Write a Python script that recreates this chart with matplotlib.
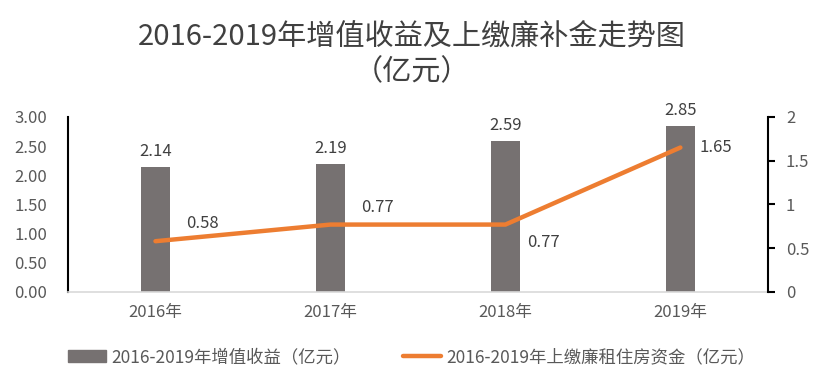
import matplotlib
matplotlib.use("Agg")
import matplotlib.pyplot as plt
from matplotlib.lines import Line2D
from matplotlib.patches import Patch

plt.rcParams['font.family'] = ['Noto Sans CJK SC', 'DejaVu Sans']

years = ["2016年", "2017年", "2018年", "2019年"]
income = [2.14, 2.19, 2.59, 2.85]
paid = [0.58, 0.77, 0.77, 1.65]

bar_color = "#767171"
line_color = "#ED7D31"
text_color = "#595959"

fig = plt.figure(figsize=(8.23, 3.9), dpi=100)
ax = fig.add_axes([0.0826, 0.2513, 0.8504, 0.449])
ax2 = ax.twinx()

x = list(range(len(years)))
ax.bar(x, income, width=0.17, color=bar_color, zorder=2)
ax.set_xlim(-0.5, 3.5)
ax.set_ylim(0, 3)
ax.set_yticks([0, 0.5, 1, 1.5, 2, 2.5, 3])
ax.set_yticklabels([f"{v:.2f}" for v in ax.get_yticks()])
ax.set_xticks(x)
ax.set_xticklabels(years)
ax.tick_params(axis="both", length=0, labelsize=12, labelcolor=text_color)
ax.tick_params(axis="y", pad=15)
ax.tick_params(axis="x", pad=9)

for s in ["top", "right"]:
    ax.spines[s].set_visible(False)
ax.spines["left"].set_color("black")
ax.spines["left"].set_linewidth(1.5)
ax.spines["bottom"].set_color("#D9D9D9")
ax.spines["bottom"].set_linewidth(1.2)

for xi, v in zip(x, income):
    ax.text(xi, v + 0.12, f"{v:.2f}", ha="center", va="bottom",
            fontsize=12, color="#404040")

ax2.plot(x, paid, color=line_color, linewidth=3.2, solid_capstyle="round", zorder=3)
ax2.set_ylim(0, 2)
ax2.set_yticks([0, 0.5, 1, 1.5, 2])
ax2.set_yticklabels(["0", "0.5", "1", "1.5", "2"])
ax2.tick_params(axis="y", length=5, width=1.5, direction="out", labelsize=12,
                labelcolor=text_color, pad=8)
for s in ["top", "left", "bottom"]:
    ax2.spines[s].set_visible(False)
ax2.spines["right"].set_color("black")
ax2.spines["right"].set_linewidth(1.5)

offsets = [(0.27, 0.2), (0.27, 0.2), (0.22, -0.2), (0.2, 0.0)]
for xi, v, (dx, dy) in zip(x, paid, offsets):
    ax2.text(xi + dx, v + dy, f"{v:.2f}", ha="center", va="center",
             fontsize=12, color="#404040")

fig.text(0.5, 0.905, "2016-2019年增值收益及上缴廉补金走势图", ha="center", va="center",
         fontsize=21, color="#404040")
fig.text(0.5, 0.815, "（亿元）", ha="center", va="center",
         fontsize=21, color="#404040")

handles = [Patch(color=bar_color),
           Line2D([0], [0], color=line_color, linewidth=3.2, solid_capstyle="round")]
labels = ["2016-2019年增值收益（亿元）", "2016-2019年上缴廉租住房资金（亿元）"]
fig.legend(handles, labels, loc="center", bbox_to_anchor=(0.5, 0.085), ncol=2,
           frameon=False, fontsize=12.5, labelcolor=text_color, handlelength=2.2,
           handletextpad=0.3, columnspacing=3.0)

fig.savefig("out.png", dpi=100)
